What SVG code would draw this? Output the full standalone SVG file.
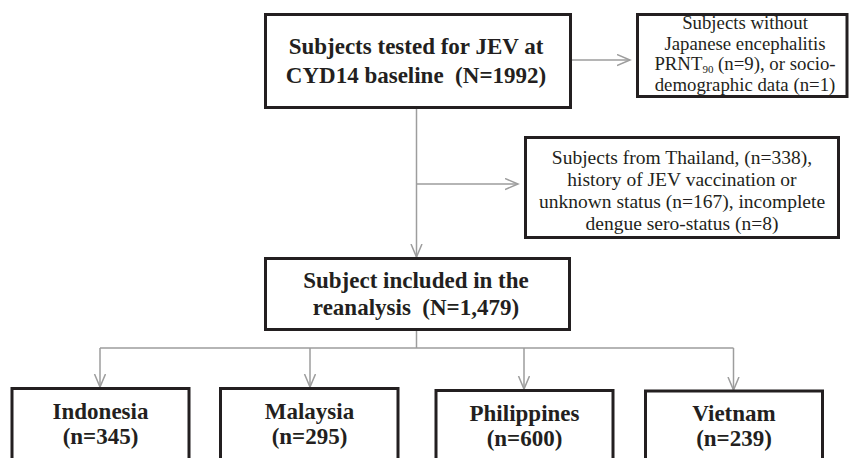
<svg xmlns="http://www.w3.org/2000/svg" width="849" height="458" viewBox="0 0 849 458">
<style>
.box{fill:#fff;stroke:#231f20;stroke-width:3}
.b{font-family:'Liberation Serif','Times New Roman',Times,'DejaVu Serif',serif;font-weight:bold;font-size:23px;fill:#231f20;text-anchor:middle}
.r{font-family:'Liberation Serif','Times New Roman',Times,'DejaVu Serif',serif;font-size:18.8px;fill:#231f20;text-anchor:middle}
.r2{font-family:'Liberation Serif','Times New Roman',Times,'DejaVu Serif',serif;font-size:19.5px;fill:#231f20;text-anchor:middle}
.c{fill:none;stroke:#9d9d9d;stroke-width:1.5}
</style>
<defs>
<marker id="ah" markerUnits="userSpaceOnUse" markerWidth="16" markerHeight="14" refX="13" refY="6" orient="auto">
<path d="M0,0.5 L13,6 L0,11.5" fill="none" stroke="#9d9d9d" stroke-width="1.5"/>
</marker>
</defs>
<rect width="849" height="458" fill="#fff"/>
<g id="connectors">
<path class="c" d="M571,60 H630" marker-end="url(#ah)"/>
<path class="c" d="M416.5,108 V257" marker-end="url(#ah)"/>
<path class="c" d="M416.5,184 H518" marker-end="url(#ah)"/>
<path class="c" d="M416.5,330 V348"/>
<path class="c" d="M100,348 H733.5"/>
<path class="c" d="M100,348 V387" marker-end="url(#ah)"/>
<path class="c" d="M310,348 V387" marker-end="url(#ah)"/>
<path class="c" d="M524,348 V389" marker-end="url(#ah)"/>
<path class="c" d="M733.5,348 V390" marker-end="url(#ah)"/>
</g>
<g id="n-top">
<rect class="box" x="265.5" y="14.5" width="305" height="93"/>
<text class="b" x="416" y="54">Subjects tested for JEV at</text>
<text class="b" x="416" y="83" xml:space="preserve">CYD14 baseline  (N=1992)</text>
</g>
<g id="n-excl1">
<rect class="box" x="637.5" y="14.5" width="209.5" height="82"/>
<text class="r" x="745" y="29">Subjects without</text>
<text class="r" x="745" y="49.5">Japanese encephalitis</text>
<text class="r" x="745" y="70">PRNT<tspan font-size="11" dy="3">90</tspan><tspan dy="-3"> (n=9), or socio-</tspan></text>
<text class="r" x="745" y="90.5">demographic data (n=1)</text>
</g>
<g id="n-excl2">
<rect class="box" x="525.5" y="137.5" width="313" height="100"/>
<text class="r2" x="682" y="164">Subjects from Thailand, (n=338),</text>
<text class="r2" x="682" y="186">history of JEV vaccination or</text>
<text class="r2" x="682" y="208">unknown status (n=167), incomplete</text>
<text class="r2" x="682" y="230">dengue sero-status (n=8)</text>
</g>
<g id="n-incl">
<rect class="box" x="265.5" y="258.5" width="304" height="71"/>
<text class="b" x="416" y="288">Subject included in the</text>
<text class="b" x="416" y="315" xml:space="preserve">reanalysis  (N=1,479)</text>
</g>
<g id="n-indonesia">
<rect class="box" x="12" y="388.5" width="177" height="90"/>
<text class="b" x="100.5" y="419">Indonesia</text>
<text class="b" x="100.5" y="444">(n=345)</text>
</g>
<g id="n-malaysia">
<rect class="box" x="220.5" y="388.5" width="177.5" height="90"/>
<text class="b" x="309.5" y="419">Malaysia</text>
<text class="b" x="309.5" y="444">(n=295)</text>
</g>
<g id="n-philippines">
<rect class="box" x="436" y="390.5" width="177" height="90"/>
<text class="b" x="524.5" y="421">Philippines</text>
<text class="b" x="524.5" y="446">(n=600)</text>
</g>
<g id="n-vietnam">
<rect class="box" x="645.5" y="391" width="177" height="90"/>
<text class="b" x="734" y="421">Vietnam</text>
<text class="b" x="734" y="446">(n=239)</text>
</g>
</svg>
